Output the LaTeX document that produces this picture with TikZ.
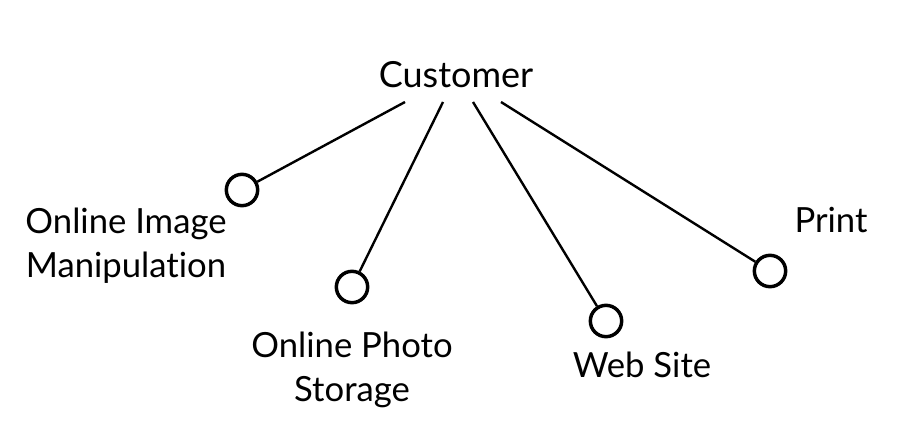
\documentclass[tikz,border=0pt]{standalone}
\usepackage{fontspec}
\setmainfont{Lato}[Ligatures={NoCommon}]
\begin{document}
\begin{tikzpicture}[x=0.75pt,y=-0.75pt,
  lbl/.style={font=\fontsize{26}{33}\selectfont, inner sep=0pt, align=center, anchor=base},
  end/.style={circle, draw, line width=2.6pt, minimum size=23.5pt, inner sep=0pt},
  conn/.style={line width=1.8pt}]
\useasboundingbox (0,0) rectangle (920,442);
\node[lbl, font=\fontsize{27}{33}\selectfont] (cust) at (456,88) {Customer};
\coordinate (s1) at (405,102);
\coordinate (s2) at (443,102);
\coordinate (s3) at (473,102);
\coordinate (s4) at (501,102);
\node[end] (c1) at (242,190) {};
\node[end] (c2) at (352,287) {};
\node[end] (c3) at (606,321) {};
\node[end] (c4) at (770,271) {};
\draw[conn] (s1) -- (c1);
\draw[conn] (s2) -- (c2);
\draw[conn] (s3) -- (c3);
\draw[conn] (s4) -- (c4);
\node[lbl] (l1) at (126,277) {Online Image\\Manipulation};
\node[lbl] (l2) at (352,401) {Online Photo\\Storage};
\node[lbl] (l3) at (642,377) {Web Site};
\node[lbl] (l4) at (831,232) {Print};
\end{tikzpicture}
\end{document}
